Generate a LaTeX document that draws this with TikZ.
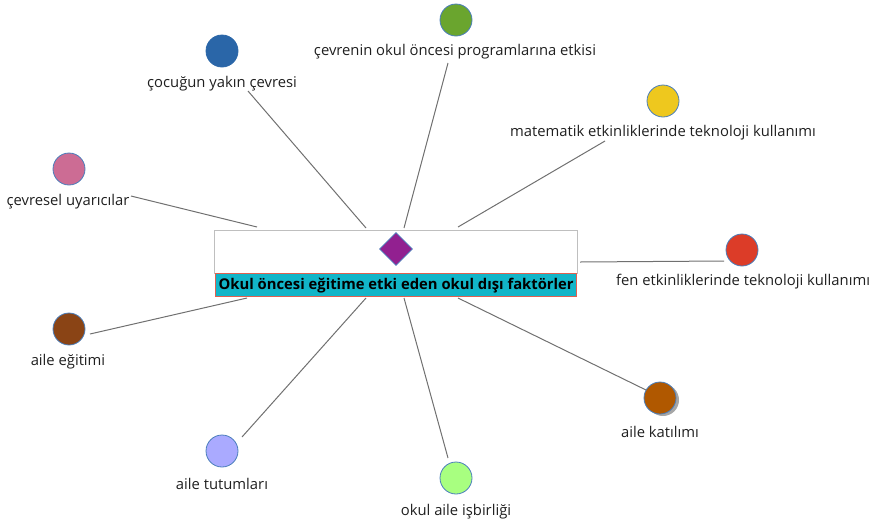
\documentclass[tikz,border=0pt]{standalone}
\usepackage{fontspec}
\setmainfont{Open Sans}
\usetikzlibrary{shapes.geometric}
\definecolor{cdblue}{HTML}{2A66A8}
\definecolor{cgreen}{HTML}{6AA52E}
\definecolor{cyellow}{HTML}{EEC81E}
\definecolor{cpink}{HTML}{CC6C94}
\definecolor{cred}{HTML}{DC3C28}
\definecolor{cbrown}{HTML}{8A4415}
\definecolor{corange}{HTML}{B05800}
\definecolor{clav}{HTML}{AAAAFF}
\definecolor{clgreen}{HTML}{A8FF80}
\definecolor{cedge}{HTML}{4A7EBB}
\definecolor{ccyan}{HTML}{12B5C8}
\definecolor{cbar}{HTML}{E06050}
\definecolor{cline}{HTML}{707070}
\definecolor{cpurple}{HTML}{922090}
\tikzset{
  dot/.style={circle, draw=cedge, line width=0.8pt, minimum size=32pt, inner sep=0pt},
  lbl/.style={font=\fontsize{14.8pt}{16pt}\selectfont, inner sep=0pt, text=black!88},
  conn/.style={draw=cline, line width=1pt},
}
\begin{document}
\begin{tikzpicture}[x=1pt,y=-1pt]
\useasboundingbox (0,0) rectangle (880,523);
% central box
\node[draw=black!25, line width=0.8pt, minimum width=363pt, minimum height=43pt, inner sep=0pt, anchor=north west] (box) at (214,230) {};
\node[diamond, fill=cpurple, draw=cedge, line width=0.6pt, minimum width=33pt, minimum height=33pt, inner sep=0pt] (dia) at (396,249) {};
\node[fill=ccyan, draw=cbar, line width=1.4pt, minimum width=361pt, minimum height=23pt, inner sep=0pt, anchor=north west, font=\fontsize{14.8pt}{16pt}\selectfont\bfseries] (title) at (215,273) {Okul öncesi eğitime etki eden okul dışı faktörler};
% circles
\node[dot, fill=cdblue, draw=cdblue] (c1) at (222,51) {};
\node[dot, fill=cgreen] (c2) at (456,20) {};
\node[dot, fill=cyellow] (c3) at (663,101) {};
\node[dot, fill=cpink] (c4) at (69,169) {};
\node[dot, fill=cred] (c5) at (742,250) {};
\node[dot, fill=cbrown] (c6) at (69,329) {};
\node[circle, fill=black!35, minimum size=32pt, inner sep=0pt] (c7s) at (663,400) {};
\node[dot, fill=corange] (c7) at (660,398) {};
\node[dot, fill=clav] (c8) at (222,451) {};
\node[dot, fill=clgreen] (c9) at (456,478) {};
% labels
\node[lbl] (l1) at (222,84) {çocuğun yakın çevresi};
\node[lbl] (l2) at (455,52) {çevrenin okul öncesi programlarına etkisi};
\node[lbl] (l3) at (663,133) {matematik etkinliklerinde teknoloji kullanımı};
\node[lbl] (l4) at (68,202) {çevresel uyarıcılar};
\node[lbl] (l5) at (743,282) {fen etkinliklerinde teknoloji kullanımı};
\node[lbl] (l6) at (68,362) {aile eğitimi};
\node[lbl] (l7) at (660,432) {aile katılımı};
\node[lbl] (l8) at (222,484) {aile tutumları};
\node[lbl] (l9) at (456,512) {okul aile işbirliği};
% connector end points
\coordinate (e1) at (248,91);
\coordinate (b1) at (366,228);
\coordinate (e2) at (448,63);
\coordinate (b2) at (404,228);
\coordinate (e3) at (605,141);
\coordinate (b3) at (458,227);
\coordinate (e4) at (131,196);
\coordinate (b4) at (257,227);
\coordinate (e5) at (724,261);
\coordinate (b5) at (580,262);
\coordinate (e6) at (90,334);
\coordinate (b6) at (247,298);
\coordinate (e7) at (646,390);
\coordinate (b7) at (458,298);
\coordinate (e8) at (242,437);
\coordinate (b8) at (366,298);
\coordinate (e9) at (448,458);
\coordinate (b9) at (404,298);
\foreach \i in {1,...,9} {\draw[conn] (e\i) -- (b\i);}
\end{tikzpicture}
\end{document}
